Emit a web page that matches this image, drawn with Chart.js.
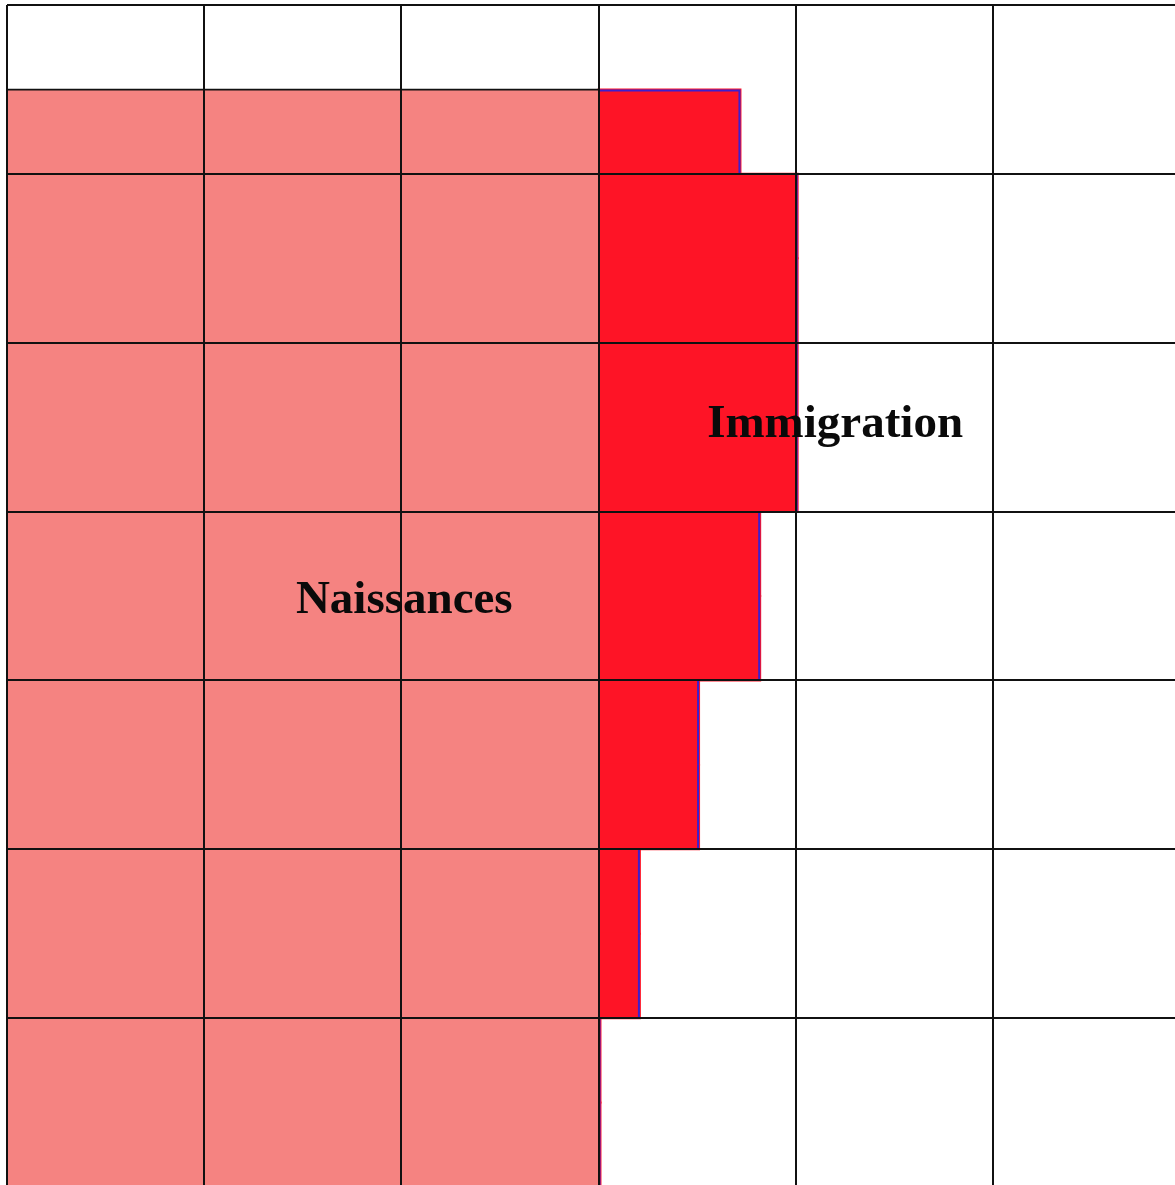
<!DOCTYPE html>
<html lang="fr">
<head>
<meta charset="UTF-8">
<title>Naissances et immigration</title>
<script src="https://cdn.jsdelivr.net/npm/chart.js@4.4.1/dist/chart.umd.min.js"></script>
<style>
    html, body { margin: 0; padding: 0; overflow: hidden; background: #fff; }
    #box { width: 1200px; height: 1192px; }
</style>
</head>
<body>
<div id="box"><canvas id="myChart"></canvas></div>
<script>
// demi-lignes du graphique (haut -> bas), la grille n'en marque qu'une sur deux
const rows = ['r1a', 'r1b', 'r2a', 'r2b', 'r3a', 'r3b', 'r4a', 'r4b', 'r5a', 'r5b', 'r6a', 'r6b', 'r7a', 'r7b'];
const naissances = [null, 3, 3, 3, 3, 3, 3, 3, 3, 3, 3, 3, 3, 3];
const immigration = [null, 0.72, 1.01, 1.01, 1.01, 1.01, 0.82, 0.82, 0.51, 0.51, 0.21, 0.21, 0.01, 0.01];
const xTicks = [0, 1, 2, 3, 4, 5, 6];

// étiquettes posées sur les échelles (x en valeur, y en limite de demi-ligne)
const tags = [
    { text: 'Naissances', x: 2.015, y: 7.2 },
    { text: 'Immigration', x: 4.2, y: 5.12 }
];

// liseré bleu à droite des barres d'immigration (pris sur les éléments de barre)
const edgePlugin = {
    id: 'edges',
    afterDatasetsDraw(chart) {
        const meta = chart.getDatasetMeta(1);
        const c = chart.ctx;
        c.save();
        c.strokeStyle = '#3d1fd0';
        c.lineWidth = 2;
        meta.data.forEach((el, i) => {
            if (immigration[i] == null) return;
            const top = el.y - el.height / 2, bot = el.y + el.height / 2;
            c.beginPath();
            c.moveTo(el.x - 1, top);
            c.lineTo(el.x - 1, bot);
            if (i === 1) {
                c.moveTo(el.base, top + 1);
                c.lineTo(el.x, top + 1);
            }
            c.stroke();
        });
        c.restore();
    }
};

const tagPlugin = {
    id: 'tags',
    afterDraw(chart) {
        const c = chart.ctx;
        const sx = chart.scales.x, sy = chart.scales.y;
        c.save();
        c.font = 'bold 47px "Liberation Serif", serif';
        c.fillStyle = '#0a0a0a';
        c.textAlign = 'center';
        c.textBaseline = 'alphabetic';
        tags.forEach(t => {
            c.fillText(t.text, sx.getPixelForValue(t.x), sy.getPixelForValue(t.y - 0.5));
        });
        c.restore();
    }
};

const ctx = document.getElementById('myChart').getContext('2d');
const myChart = new Chart(ctx, {
    type: 'bar',
    data: {
        labels: rows,
        datasets: [{
            label: 'Naissances',
            data: naissances,
            backgroundColor: '#f58381',
            borderColor: '#111',
            borderWidth: (c) => c.dataIndex === 1 ? { top: 2 } : 0,
            barPercentage: 1,
            categoryPercentage: 1,
            inflateAmount: 1
        }, {
            label: 'Immigration',
            data: immigration,
            backgroundColor: '#fe1426',
            borderWidth: 0,
            barPercentage: 1,
            categoryPercentage: 1,
            inflateAmount: 1
        }]
    },
    options: {
        indexAxis: 'y',
        responsive: true,
        maintainAspectRatio: false,
        animation: false,
        layout: { padding: { left: 7, top: 5, right: 10, bottom: 5 } },
        plugins: {
            legend: { display: false },
            tooltip: { enabled: false }
        },
        scales: {
            x: {
                type: 'linear',
                stacked: true,
                min: 0,
                max: 6,
                afterBuildTicks: (s) => { s.ticks = xTicks.map(v => ({ value: v })); },
                ticks: { display: false },
                grid: { color: '#111', lineWidth: 2, drawTicks: false, z: 1 },
                border: { display: false }
            },
            y: {
                stacked: true,
                ticks: { display: false },
                grid: {
                    // une ligne toutes les deux demi-lignes
                    color: (c) => c.index % 2 === 0 ? '#111' : 'rgba(0,0,0,0)',
                    lineWidth: 2,
                    drawTicks: false,
                    z: 1
                },
                border: { display: false }
            }
        }
    },
    plugins: [edgePlugin, tagPlugin]
});
</script>
</body>
</html>
